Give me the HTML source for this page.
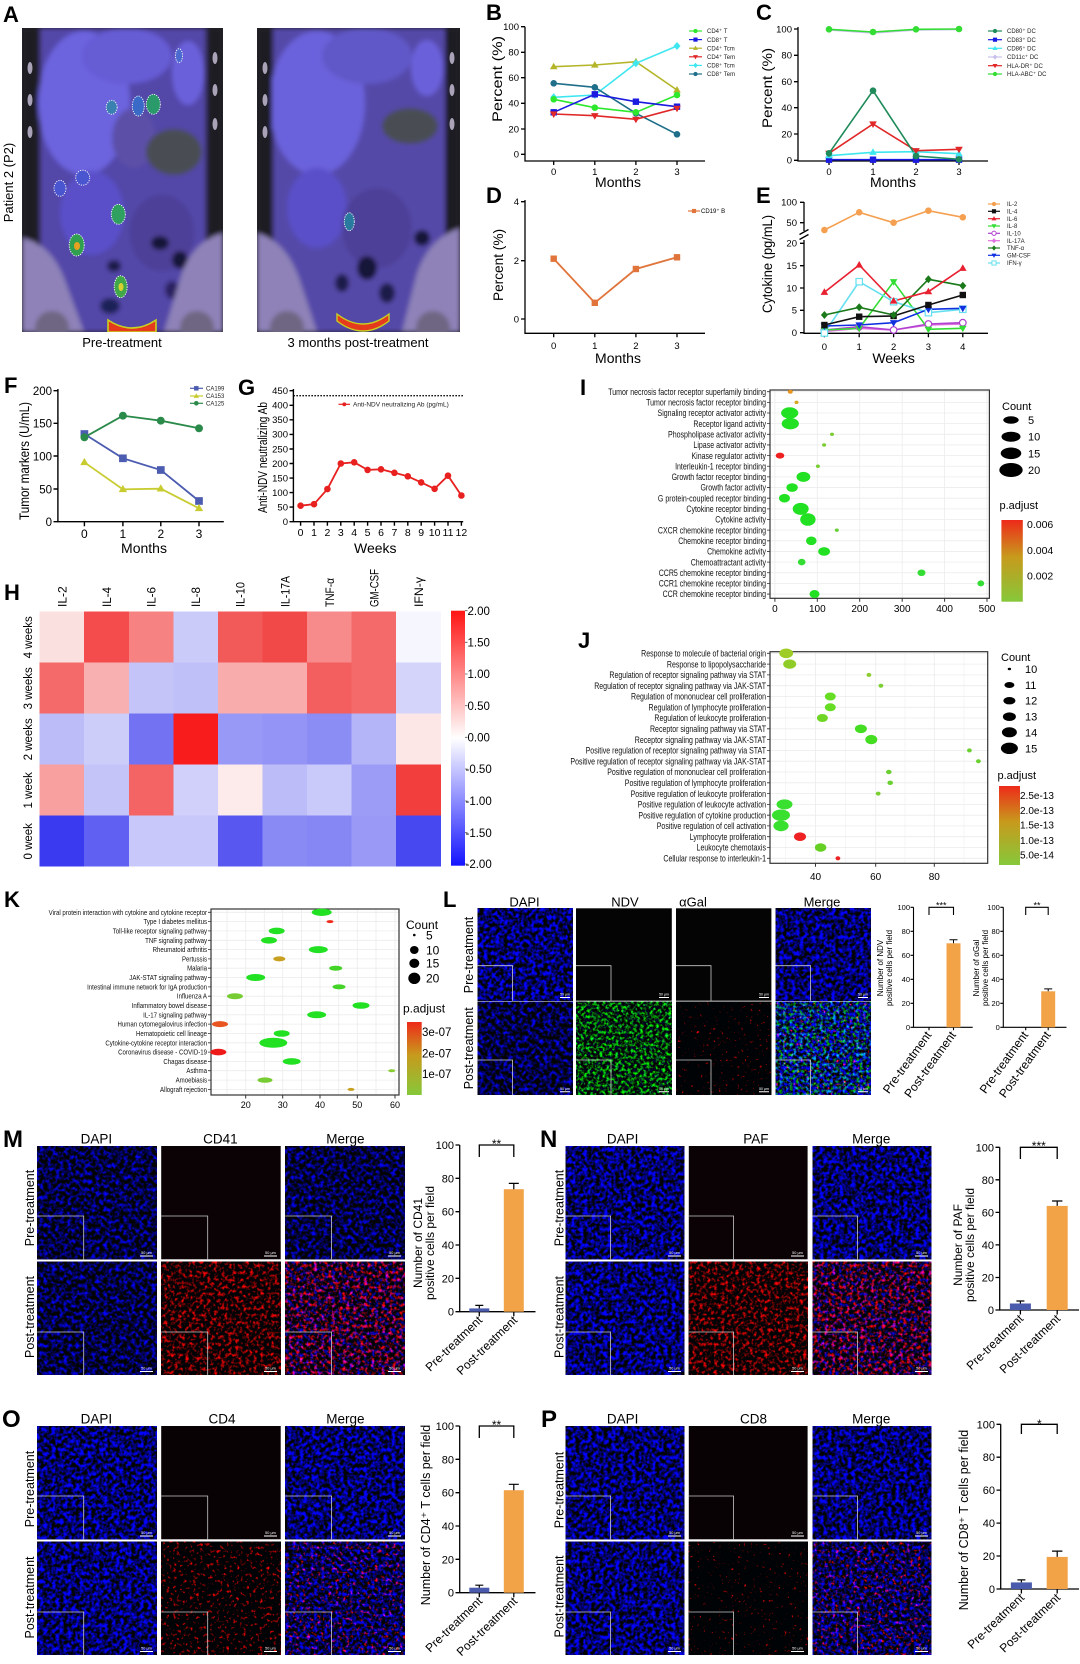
<!DOCTYPE html>
<html><head><meta charset="utf-8"><style>
html,body{margin:0;padding:0;background:#fff;}
svg{display:block;}
</style></head><body>
<svg width="1080" height="1664" viewBox="0 0 1080 1664" xmlns="http://www.w3.org/2000/svg" font-family="Liberation Sans, Arial, DejaVu Sans, sans-serif">
<defs>
<circle id="c" r="3.3"/>
<rect id="s" x="-3.2" y="-3.2" width="6.4" height="6.4"/>
<path id="t" d="M0-4 3.8 2.6-3.8 2.6Z"/>
<path id="v" d="M0 4 3.8-2.6-3.8-2.6Z"/>
<path id="d" d="M0-4 3.5 0 0 4-3.5 0Z"/>
<filter id="fBlur" x="-5%" y="-5%" width="110%" height="110%"><feGaussianBlur stdDeviation="2.5"/></filter>
<filter id="fDapi" x="0" y="0" width="1" height="1" color-interpolation-filters="sRGB"><feTurbulence type="fractalNoise" baseFrequency="0.25" numOctaves="3" seed="4"/><feColorMatrix type="matrix" values="0 0 0 0 0.01  0 0 0 0 0.01  3.0 0 0 0 -1.1  0 0 0 0 1"/></filter>
<filter id="fDapiDim" x="0" y="0" width="1" height="1" color-interpolation-filters="sRGB"><feTurbulence type="fractalNoise" baseFrequency="0.25" numOctaves="3" seed="7"/><feColorMatrix type="matrix" values="0 0 0 0 0.01  0 0 0 0 0.01  2.6 0 0 0 -1.05  0 0 0 0 1"/></filter>
<filter id="fRed" x="0" y="0" width="1" height="1" color-interpolation-filters="sRGB"><feTurbulence type="fractalNoise" baseFrequency="0.28" numOctaves="2" seed="11"/><feColorMatrix type="matrix" values="0 3.0 0 0 -1.4  0 0 0 0 0.01  0 0 0 0 0.02  0 0 0 0 1"/></filter>
<filter id="fRedMed" x="0" y="0" width="1" height="1" color-interpolation-filters="sRGB"><feTurbulence type="fractalNoise" baseFrequency="0.3" numOctaves="2" seed="13"/><feColorMatrix type="matrix" values="0 4.0 0 0 -2.3  0 0 0 0 0.01  0 0 0 0 0.02  0 0 0 0 1"/></filter>
<filter id="fRedSparse" x="0" y="0" width="1" height="1" color-interpolation-filters="sRGB"><feTurbulence type="fractalNoise" baseFrequency="0.32" numOctaves="2" seed="17"/><feColorMatrix type="matrix" values="0 5.0 0 0 -3.4  0 0 0 0 0.01  0 0 0 0 0.02  0 0 0 0 1"/></filter>
<filter id="fGreen" x="0" y="0" width="1" height="1" color-interpolation-filters="sRGB"><feTurbulence type="fractalNoise" baseFrequency="0.32" numOctaves="2" seed="21"/><feColorMatrix type="matrix" values="0 0 0 0 0.02  3.0 0 0 0 -1.3  0 0 0.6 0 -0.25  0 0 0 0 1"/></filter>
<filter id="fMergeL" x="0" y="0" width="1" height="1" color-interpolation-filters="sRGB"><feTurbulence type="fractalNoise" baseFrequency="0.3" numOctaves="2" seed="23"/><feColorMatrix type="matrix" values="0 5.0 0 0 -3.3  2.2 0 0 0 -1.0  0 0 3.0 0 -1.1  0 0 0 0 1"/></filter>
<filter id="fMergeRB" x="0" y="0" width="1" height="1" color-interpolation-filters="sRGB"><feTurbulence type="fractalNoise" baseFrequency="0.28" numOctaves="2" seed="29"/><feColorMatrix type="matrix" values="0 3.0 0 0 -1.4  0 0 0 0 0.01  2.4 0 0 0 -1.05  0 0 0 0 1"/></filter>
<filter id="fMergeBsR" x="0" y="0" width="1" height="1" color-interpolation-filters="sRGB"><feTurbulence type="fractalNoise" baseFrequency="0.28" numOctaves="2" seed="31"/><feColorMatrix type="matrix" values="0 4.0 0 0 -2.35  0 0 0 0 0.01  2.8 0 0 0 -1.1  0 0 0 0 1"/></filter>
<linearGradient id="gHeat" x1="0" y1="0" x2="0" y2="1"><stop offset="0" stop-color="#ff1414"/><stop offset="0.5" stop-color="#ffffff"/><stop offset="1" stop-color="#1414ff"/></linearGradient>
<linearGradient id="gPadj" x1="0" y1="0" x2="0" y2="1"><stop offset="0" stop-color="#ee2a1a"/><stop offset="0.45" stop-color="#c89a1c"/><stop offset="1" stop-color="#86c83a"/></linearGradient>
<clipPath id="ctL"><rect width="201" height="304"/></clipPath>
<clipPath id="ctR"><rect width="203" height="304"/></clipPath>
</defs>
<rect width="1080" height="1664" fill="#fff"/>

<!-- Panel labels -->
<g font-weight="bold" font-size="22" fill="#000">
<text x="3" y="22">A</text><text x="486" y="20">B</text><text x="756" y="20">C</text>
<text x="486" y="203">D</text><text x="756" y="203">E</text>
<text x="4" y="393">F</text><text x="238" y="395">G</text><text x="4" y="600">H</text>
<text x="580" y="395">I</text><text x="578" y="648">J</text>
<text x="4" y="907">K</text><text x="443" y="907">L</text>
</g>
<g font-weight="bold" font-size="24" fill="#000">
<text x="3" y="1147">M</text><text x="540" y="1147">N</text><text x="2" y="1427">O</text><text x="541" y="1427">P</text>
</g>

<!-- ===== Panel A ===== -->
<g transform="translate(22,28)"><g clip-path="url(#ctL)">
<rect width="201" height="304" fill="#24212b"/>
<g filter="url(#fBlur)">
<rect x="18" y="0" width="166" height="304" fill="#5246a8"/>
<ellipse cx="62" cy="75" rx="46" ry="72" fill="#6c63de"/>
<ellipse cx="105" cy="28" rx="45" ry="28" fill="#665cd4"/>
<ellipse cx="166" cy="45" rx="16" ry="32" fill="#6a60da"/>
<ellipse cx="112" cy="110" rx="22" ry="30" fill="#5c4fa8"/>
<ellipse cx="152" cy="124" rx="28" ry="23" fill="#4a4e52"/>
<ellipse cx="70" cy="185" rx="32" ry="42" fill="#5a50c8"/>
<ellipse cx="140" cy="205" rx="32" ry="38" fill="#4d4098"/>
<ellipse cx="138" cy="215" rx="9" ry="7" fill="#161338"/>
<ellipse cx="158" cy="232" rx="8" ry="9" fill="#161338"/>
<ellipse cx="92" cy="238" rx="7" ry="6" fill="#1e1c4a"/>
<ellipse cx="88" cy="278" rx="10" ry="8" fill="#1e2458"/>
<ellipse cx="150" cy="262" rx="7" ry="9" fill="#2a2060"/>
<rect x="0" y="0" width="16" height="215" fill="#1e1c24"/>
<rect x="186" y="0" width="15" height="210" fill="#1e1c24"/>
<path d="M0,210 Q28,215 42,250 L62,304 H0Z" fill="#8e82b8"/>
<path d="M201,205 Q172,212 160,245 L142,304 H201Z" fill="#8e82b8"/>
<circle cx="30" cy="300" r="17" fill="#6e6682"/>
<circle cx="175" cy="300" r="17" fill="#6e6682"/>
</g>
<g fill="#aaa3b8"><ellipse cx="8" cy="40" rx="2.5" ry="6"/><ellipse cx="8" cy="72" rx="2.5" ry="6"/><ellipse cx="8" cy="104" rx="2.5" ry="6"/><ellipse cx="193" cy="30" rx="2.5" ry="6"/><ellipse cx="193" cy="62" rx="2.5" ry="6"/><ellipse cx="193" cy="96" rx="2.5" ry="6"/></g>
<path d="M86,292 Q110,308 134,292 L134,304 H86Z" fill="#e63a1c" stroke="#c8d020" stroke-width="1.6"/>
<g stroke="#fff" stroke-width="0.9" stroke-dasharray="1.2 1.2">
<ellipse cx="157" cy="27.7" rx="3.5" ry="7" fill="#4a6ad0"/>
<ellipse cx="89.7" cy="79.3" rx="5.5" ry="7" fill="#3a80b0"/>
<ellipse cx="116.3" cy="78" rx="6" ry="10" fill="#3a6ac8"/>
<ellipse cx="131.3" cy="76.3" rx="7" ry="10" fill="#2a9a6a"/>
<ellipse cx="60.7" cy="149.7" rx="7" ry="7.5" fill="#4a55d0"/>
<ellipse cx="38" cy="160.3" rx="6" ry="8" fill="#4a55d0"/>
<ellipse cx="96.3" cy="186.3" rx="7" ry="10" fill="#30a060"/>
<ellipse cx="54.7" cy="217" rx="7.5" ry="11" fill="#30a050"/>
<ellipse cx="98.7" cy="258.7" rx="6.5" ry="11" fill="#40a848"/>
</g>
<ellipse cx="55" cy="218" rx="3" ry="4" fill="#e8a020"/>
<ellipse cx="99" cy="259" rx="2.5" ry="4" fill="#d8d030"/>
</g></g>

<g transform="translate(257,28)"><g clip-path="url(#ctR)">
<rect width="203" height="304" fill="#24212b"/>
<g filter="url(#fBlur)">
<rect x="16" y="0" width="172" height="304" fill="#5448a8"/>
<ellipse cx="60" cy="75" rx="48" ry="72" fill="#6a62dc"/>
<ellipse cx="110" cy="28" rx="45" ry="28" fill="#6058c8"/>
<ellipse cx="170" cy="40" rx="16" ry="28" fill="#6a60da"/>
<ellipse cx="153" cy="98" rx="28" ry="18" fill="#4a4e52"/>
<ellipse cx="60" cy="180" rx="30" ry="40" fill="#5a50c8"/>
<ellipse cx="120" cy="200" rx="35" ry="40" fill="#4d4098"/>
<ellipse cx="110" cy="240" rx="10" ry="12" fill="#181438"/>
<ellipse cx="130" cy="265" rx="8" ry="10" fill="#1e1c4a"/>
<ellipse cx="85" cy="255" rx="7" ry="9" fill="#1e1c4a"/>
<ellipse cx="165" cy="210" rx="8" ry="8" fill="#161338"/>
<rect x="0" y="0" width="15" height="215" fill="#1e1c24"/>
<rect x="188" y="0" width="15" height="210" fill="#1e1c24"/>
<path d="M0,205 Q28,212 42,250 L60,304 H0Z" fill="#8e82b8"/>
<path d="M203,200 Q172,210 160,245 L145,304 H203Z" fill="#8e82b8"/>
<circle cx="30" cy="300" r="17" fill="#6e6682"/>
<circle cx="176" cy="300" r="17" fill="#6e6682"/>
</g>
<g fill="#aaa3b8"><ellipse cx="8" cy="40" rx="2.5" ry="6"/><ellipse cx="8" cy="72" rx="2.5" ry="6"/><ellipse cx="8" cy="104" rx="2.5" ry="6"/><ellipse cx="195" cy="30" rx="2.5" ry="6"/><ellipse cx="195" cy="62" rx="2.5" ry="6"/><ellipse cx="195" cy="96" rx="2.5" ry="6"/></g>
<path d="M80,286 Q106,306 132,286 L132,293 Q106,313 80,293Z" fill="#e63a1c" stroke="#c8d020" stroke-width="1.4"/>
<ellipse cx="92.3" cy="193.7" rx="5" ry="9" fill="#2a7aa0" stroke="#fff" stroke-width="0.9" stroke-dasharray="1.2 1.2"/>
</g></g>
<g font-size="13" fill="#000" text-anchor="middle">
<text x="122" y="347">Pre-treatment</text>
<text x="358" y="347">3 months post-treatment</text>
<text transform="translate(13,182.5) rotate(-90)">Patient 2 (P2)</text>
</g>

<!-- ===== Panel B ===== -->
<g stroke="#000" stroke-width="1.3" fill="none">
<path d="M525,26.7V161H705"/>
<path d="M521,26.7H525M521,52.3H525M521,77.7H525M521,103.3H525M521,129H525M521,154.3H525"/>
<path d="M553.7,161v4M594.8,161v4M635.9,161v4M677,161v4"/>
</g>
<g font-size="9.5" text-anchor="end"><text x="519" y="30">100</text><text x="519" y="55.6">80</text><text x="519" y="81">60</text><text x="519" y="106.6">40</text><text x="519" y="132.3">20</text><text x="519" y="157.6">0</text></g>
<g font-size="9.5" text-anchor="middle"><text x="553.7" y="175">0</text><text x="594.8" y="175">1</text><text x="635.9" y="175">2</text><text x="677" y="175">3</text></g>
<text x="618" y="187" font-size="14" text-anchor="middle">Months</text>
<text transform="translate(502,79) rotate(-90)" font-size="14" text-anchor="middle" textLength="86" lengthAdjust="spacingAndGlyphs">Percent (%)</text>
<g fill="none" stroke-width="1.6">
<polyline stroke="#b5b52a" points="553.7,66.7 594.8,65 635.9,61.7 677,90"/>
<polyline stroke="#3ee6f0" points="553.7,97.3 594.8,95 635.9,63.3 677,46"/>
<polyline stroke="#1f6f8a" points="553.7,83.3 594.8,87.3 635.9,113.3 677,134.3"/>
<polyline stroke="#2ee82e" points="553.7,99.3 594.8,107.7 635.9,112.3 677,95"/>
<polyline stroke="#1a1ae0" points="553.7,112.3 594.8,94.3 635.9,101.7 677,106.7"/>
<polyline stroke="#e02828" points="553.7,114 594.8,115.7 635.9,119.3 677,108.3"/>
</g>
<g fill="#b5b52a"><use href="#t" x="553.7" y="66.7"/><use href="#t" x="594.8" y="65"/><use href="#t" x="635.9" y="61.7"/><use href="#t" x="677" y="90"/></g>
<g fill="#3ee6f0"><use href="#d" x="553.7" y="97.3"/><use href="#d" x="594.8" y="95"/><use href="#d" x="635.9" y="63.3"/><use href="#d" x="677" y="46"/></g>
<g fill="#1f6f8a"><use href="#c" x="553.7" y="83.3"/><use href="#c" x="594.8" y="87.3"/><use href="#c" x="635.9" y="113.3"/><use href="#c" x="677" y="134.3"/></g>
<g fill="#2ee82e"><use href="#c" x="553.7" y="99.3"/><use href="#c" x="594.8" y="107.7"/><use href="#c" x="635.9" y="112.3"/><use href="#c" x="677" y="95"/></g>
<g fill="#1a1ae0"><use href="#s" x="553.7" y="112.3"/><use href="#s" x="594.8" y="94.3"/><use href="#s" x="635.9" y="101.7"/><use href="#s" x="677" y="106.7"/></g>
<g fill="#e02828"><use href="#v" x="553.7" y="114"/><use href="#v" x="594.8" y="115.7"/><use href="#v" x="635.9" y="119.3"/><use href="#v" x="677" y="108.3"/></g>
<g font-size="6" fill="#222">
<line x1="689" x2="702" y1="31" y2="31" stroke="#2ee82e" stroke-width="1.2"/><use href="#c" transform="translate(695.5,31) scale(.65)" fill="#2ee82e"/><text x="707" y="33.2">CD4⁺ T</text>
<line x1="689" x2="702" y1="39.6" y2="39.6" stroke="#1a1ae0" stroke-width="1.2"/><use href="#s" transform="translate(695.5,39.6) scale(.65)" fill="#1a1ae0"/><text x="707" y="41.8">CD8⁺ T</text>
<line x1="689" x2="702" y1="48.2" y2="48.2" stroke="#b5b52a" stroke-width="1.2"/><use href="#t" transform="translate(695.5,48.2) scale(.65)" fill="#b5b52a"/><text x="707" y="50.4">CD4⁺ Tcm</text>
<line x1="689" x2="702" y1="56.8" y2="56.8" stroke="#e02828" stroke-width="1.2"/><use href="#v" transform="translate(695.5,56.8) scale(.65)" fill="#e02828"/><text x="707" y="59">CD4⁺ Tem</text>
<line x1="689" x2="702" y1="65.4" y2="65.4" stroke="#3ee6f0" stroke-width="1.2"/><use href="#d" transform="translate(695.5,65.4) scale(.65)" fill="#3ee6f0"/><text x="707" y="67.6">CD8⁺ Tcm</text>
<line x1="689" x2="702" y1="74" y2="74" stroke="#1f6f8a" stroke-width="1.2"/><use href="#c" transform="translate(695.5,74) scale(.65)" fill="#1f6f8a"/><text x="707" y="76.2">CD8⁺ Tem</text>
</g>

<!-- ===== Panel C ===== -->
<g stroke="#000" stroke-width="1.3" fill="none">
<path d="M798,27V161H988"/>
<path d="M794,29H798M794,55.3H798M794,81.7H798M794,107.7H798M794,134H798M794,160.3H798"/>
<path d="M829,161v4M873,161v4M916,161v4M959,161v4"/>
</g>
<g font-size="9.5" text-anchor="end"><text x="792" y="32.3">100</text><text x="792" y="58.6">80</text><text x="792" y="85">60</text><text x="792" y="111">40</text><text x="792" y="137.3">20</text><text x="792" y="163.6">0</text></g>
<g font-size="9.5" text-anchor="middle"><text x="829" y="175">0</text><text x="873" y="175">1</text><text x="916" y="175">2</text><text x="959" y="175">3</text></g>
<text x="893" y="187" font-size="14" text-anchor="middle">Months</text>
<text transform="translate(772,88) rotate(-90)" font-size="14" text-anchor="middle" textLength="80" lengthAdjust="spacingAndGlyphs">Percent (%)</text>
<g fill="none" stroke-width="1.6">
<polyline stroke="#1a1ae0" points="829,159.7 873,159.7 916,159.7 959,159.7"/>
<polyline stroke="#3ee6f0" points="829,155.7 873,152.3 916,151.7 959,153.7"/>
<polyline stroke="#e02828" points="829,153.3 873,124 916,150.7 959,149.3"/>
<polyline stroke="#1f8a5a" points="829,153.3 873,90.7 916,156 959,159.3"/>
<polyline stroke="#c8c0ec" points="829,30 873,33 916,30 959,29.5"/>
<polyline stroke="#33dd33" points="829,29.3 873,32 916,29.3 959,29"/>
</g>
<g fill="#1a1ae0"><use href="#s" x="829" y="159.7"/><use href="#s" x="873" y="159.7"/><use href="#s" x="916" y="159.7"/><use href="#s" x="959" y="159.7"/></g>
<g fill="#3ee6f0"><use href="#t" x="829" y="155.7"/><use href="#t" x="873" y="152.3"/><use href="#t" x="916" y="151.7"/><use href="#t" x="959" y="153.7"/></g>
<g fill="#e02828"><use href="#v" x="829" y="153.3"/><use href="#v" x="873" y="124"/><use href="#v" x="916" y="150.7"/><use href="#v" x="959" y="149.3"/></g>
<g fill="#1f8a5a"><use href="#c" x="829" y="153.3"/><use href="#c" x="873" y="90.7"/><use href="#c" x="916" y="156"/><use href="#c" x="959" y="159.3"/></g>
<g fill="#33dd33"><use href="#c" x="829" y="29.3"/><use href="#c" x="873" y="32"/><use href="#c" x="916" y="29.3"/><use href="#c" x="959" y="29"/></g>
<g font-size="6" fill="#222">
<line x1="988" x2="1002" y1="31" y2="31" stroke="#1f8a5a" stroke-width="1.2"/><use href="#c" transform="translate(995,31) scale(.65)" fill="#1f8a5a"/><text x="1007" y="33.2">CD80⁺ DC</text>
<line x1="988" x2="1002" y1="39.7" y2="39.7" stroke="#1a1ae0" stroke-width="1.2"/><use href="#s" transform="translate(995,39.7) scale(.65)" fill="#1a1ae0"/><text x="1007" y="41.9">CD83⁺ DC</text>
<line x1="988" x2="1002" y1="48.3" y2="48.3" stroke="#3ee6f0" stroke-width="1.2"/><use href="#t" transform="translate(995,48.3) scale(.65)" fill="#3ee6f0"/><text x="1007" y="50.5">CD86⁺ DC</text>
<line x1="988" x2="1002" y1="57" y2="57" stroke="#c8c0ec" stroke-width="1.2"/><use href="#d" transform="translate(995,57) scale(.65)" fill="#c8c0ec"/><text x="1007" y="59.2">CD11c⁺ DC</text>
<line x1="988" x2="1002" y1="65.7" y2="65.7" stroke="#e02828" stroke-width="1.2"/><use href="#v" transform="translate(995,65.7) scale(.65)" fill="#e02828"/><text x="1007" y="67.9">HLA-DR⁺ DC</text>
<line x1="988" x2="1002" y1="74" y2="74" stroke="#33dd33" stroke-width="1.2"/><use href="#c" transform="translate(995,74) scale(.65)" fill="#33dd33"/><text x="1007" y="76.2">HLA-ABC⁺ DC</text>
</g>

<!-- ===== Panel D ===== -->
<g stroke="#000" stroke-width="1.3" fill="none">
<path d="M525,200V333.3H705"/>
<path d="M521,201.7H525M521,260.7H525M521,319H525"/>
<path d="M553.7,333.3v4M594.8,333.3v4M635.9,333.3v4M677,333.3v4"/>
</g>
<g font-size="9.5" text-anchor="end"><text x="519" y="205">4</text><text x="519" y="264">2</text><text x="519" y="322.3">0</text></g>
<g font-size="9.5" text-anchor="middle"><text x="553.7" y="349">0</text><text x="594.8" y="349">1</text><text x="635.9" y="349">2</text><text x="677" y="349">3</text></g>
<text x="618" y="363" font-size="14" text-anchor="middle">Months</text>
<text transform="translate(503,265) rotate(-90)" font-size="14" text-anchor="middle" textLength="72" lengthAdjust="spacingAndGlyphs">Percent (%)</text>
<polyline fill="none" stroke="#e0743a" stroke-width="1.8" points="553.7,258.7 594.8,302.8 635.9,269 677,257.3"/>
<g fill="#e0743a"><use href="#s" x="553.7" y="258.7"/><use href="#s" x="594.8" y="302.8"/><use href="#s" x="635.9" y="269"/><use href="#s" x="677" y="257.3"/></g>
<line x1="688" x2="700" y1="211" y2="211" stroke="#e0743a" stroke-width="1.2"/><use href="#s" transform="translate(694,211) scale(.65)" fill="#e0743a"/><text x="701" y="213.2" font-size="6">CD19⁺ B</text>

<!-- ===== Panel E ===== -->
<g stroke="#000" stroke-width="1.3" fill="none">
<path d="M804,202V231"/>
<path d="M804,240V333.3H988"/>
<path d="M799.5,234.5L808.5,229.5M799.5,239.5L808.5,234.5"/>
<path d="M800,202.3H804M800,222.7H804M800,243.3H804M800,265.7H804M800,288H804M800,310.3H804M800,332.7H804"/>
<path d="M824.4,333.3v4M859.2,333.3v4M893.6,333.3v4M928.4,333.3v4M962.8,333.3v4"/>
</g>
<g font-size="9.5" text-anchor="end"><text x="797" y="205.6">100</text><text x="797" y="226">50</text><text x="797" y="246.6">20</text><text x="797" y="269">15</text><text x="797" y="291.3">10</text><text x="797" y="313.6">5</text><text x="797" y="336">0</text></g>
<g font-size="9.5" text-anchor="middle"><text x="824.4" y="350">0</text><text x="859.2" y="350">1</text><text x="893.6" y="350">2</text><text x="928.4" y="350">3</text><text x="962.8" y="350">4</text></g>
<text x="893.6" y="363" font-size="14" text-anchor="middle">Weeks</text>
<text transform="translate(772,264) rotate(-90)" font-size="14" text-anchor="middle" textLength="98" lengthAdjust="spacingAndGlyphs">Cytokine (pg/mL)</text>
<g fill="none" stroke-width="1.6">
<polyline stroke="#f5a050" points="824.4,230 859.2,212.3 893.6,222.7 928.4,210.7 962.8,217.3"/>
<polyline stroke="#e070e0" points="824.4,331.5 859.2,328.3 893.6,330 928.4,325 962.8,324"/>
<polyline stroke="#b040d0" points="824.4,330 859.2,326.7 893.6,330 928.4,324 962.8,322.7"/>
<polyline stroke="#33dd33" points="824.4,330 859.2,328.3 893.6,281.7 928.4,329.3 962.8,328.3"/>
<polyline stroke="#66e0f0" points="824.4,333 859.2,281.7 893.6,301.7 928.4,312.7 962.8,309.3"/>
<polyline stroke="#1030e0" points="824.4,326 859.2,325 893.6,322.7 928.4,309.3 962.8,308.3"/>
<polyline stroke="#111" points="824.4,325 859.2,316.7 893.6,316 928.4,305 962.8,295"/>
<polyline stroke="#1a7a1a" points="824.4,315 859.2,307.3 893.6,315 928.4,279.3 962.8,285.7"/>
<polyline stroke="#e82030" points="824.4,292.3 859.2,265 893.6,301 928.4,291.7 962.8,268.3"/>
</g>
<g fill="#f5a050"><use href="#c" x="824.4" y="230"/><use href="#c" x="859.2" y="212.3"/><use href="#c" x="893.6" y="222.7"/><use href="#c" x="928.4" y="210.7"/><use href="#c" x="962.8" y="217.3"/></g>
<g fill="#e070e0"><use href="#d" x="824.4" y="331.5"/><use href="#d" x="859.2" y="328.3"/><use href="#d" x="893.6" y="330"/><use href="#d" x="928.4" y="325"/><use href="#d" x="962.8" y="324"/></g>
<g fill="#fff" stroke="#b040d0" stroke-width="1.2"><use href="#c" x="824.4" y="330"/><use href="#c" x="859.2" y="326.7"/><use href="#c" x="893.6" y="330"/><use href="#c" x="928.4" y="324"/><use href="#c" x="962.8" y="322.7"/></g>
<g fill="#33dd33"><use href="#v" x="824.4" y="330"/><use href="#v" x="859.2" y="328.3"/><use href="#v" x="893.6" y="281.7"/><use href="#v" x="928.4" y="329.3"/><use href="#v" x="962.8" y="328.3"/></g>
<g fill="#fff" stroke="#66e0f0" stroke-width="1.2"><use href="#s" x="824.4" y="333"/><use href="#s" x="859.2" y="281.7"/><use href="#s" x="893.6" y="301.7"/><use href="#s" x="928.4" y="312.7"/><use href="#s" x="962.8" y="309.3"/></g>
<g fill="#1030e0"><use href="#v" x="824.4" y="326"/><use href="#v" x="859.2" y="325"/><use href="#v" x="893.6" y="322.7"/><use href="#v" x="928.4" y="309.3"/><use href="#v" x="962.8" y="308.3"/></g>
<g fill="#111"><use href="#s" x="824.4" y="325"/><use href="#s" x="859.2" y="316.7"/><use href="#s" x="893.6" y="316"/><use href="#s" x="928.4" y="305"/><use href="#s" x="962.8" y="295"/></g>
<g fill="#1a7a1a"><use href="#d" x="824.4" y="315"/><use href="#d" x="859.2" y="307.3"/><use href="#d" x="893.6" y="315"/><use href="#d" x="928.4" y="279.3"/><use href="#d" x="962.8" y="285.7"/></g>
<g fill="#e82030"><use href="#t" x="824.4" y="292.3"/><use href="#t" x="859.2" y="265"/><use href="#t" x="893.6" y="301"/><use href="#t" x="928.4" y="291.7"/><use href="#t" x="962.8" y="268.3"/></g>
<g font-size="6" fill="#222">
<line x1="988" x2="1000" y1="204" y2="204" stroke="#f5a050" stroke-width="1.2"/><use href="#c" transform="translate(994,204) scale(.65)" fill="#f5a050"/><text x="1007" y="206.2">IL-2</text>
<line x1="988" x2="1000" y1="211.3" y2="211.3" stroke="#111" stroke-width="1.2"/><use href="#s" transform="translate(994,211.3) scale(.65)" fill="#111"/><text x="1007" y="213.5">IL-4</text>
<line x1="988" x2="1000" y1="218.7" y2="218.7" stroke="#e82030" stroke-width="1.2"/><use href="#t" transform="translate(994,218.7) scale(.65)" fill="#e82030"/><text x="1007" y="220.9">IL-6</text>
<line x1="988" x2="1000" y1="226" y2="226" stroke="#33dd33" stroke-width="1.2"/><use href="#v" transform="translate(994,226) scale(.65)" fill="#33dd33"/><text x="1007" y="228.2">IL-8</text>
<line x1="988" x2="1000" y1="233.3" y2="233.3" stroke="#b040d0" stroke-width="1.2"/><use href="#c" transform="translate(994,233.3) scale(.65)" fill="#fff" stroke="#b040d0" stroke-width="1.5"/><text x="1007" y="235.5">IL-10</text>
<line x1="988" x2="1000" y1="240.7" y2="240.7" stroke="#e070e0" stroke-width="1.2"/><use href="#d" transform="translate(994,240.7) scale(.65)" fill="#e070e0"/><text x="1007" y="242.9">IL-17A</text>
<line x1="988" x2="1000" y1="248" y2="248" stroke="#1a7a1a" stroke-width="1.2"/><use href="#d" transform="translate(994,248) scale(.65)" fill="#1a7a1a"/><text x="1007" y="250.2">TNF-α</text>
<line x1="988" x2="1000" y1="255.3" y2="255.3" stroke="#1030e0" stroke-width="1.2"/><use href="#v" transform="translate(994,255.3) scale(.65)" fill="#1030e0"/><text x="1007" y="257.5">GM-CSF</text>
<line x1="988" x2="1000" y1="263" y2="263" stroke="#66e0f0" stroke-width="1.2"/><use href="#s" transform="translate(994,263) scale(.65)" fill="#fff" stroke="#66e0f0" stroke-width="1.5"/><text x="1007" y="265.2">IFN-γ</text>
</g>

<!-- ===== Panel F ===== -->
<g stroke="#000" stroke-width="1.4" fill="none">
<path d="M57.9,389V521.7H223.8"/>
<path d="M53.5,390.7H57.9M53.5,423.3H57.9M53.5,456H57.9M53.5,489H57.9M53.5,521.7H57.9"/>
<path d="M84.4,521.7v4.5M122.9,521.7v4.5M160.8,521.7v4.5M199,521.7v4.5"/>
</g>
<g font-size="11.5" text-anchor="end"><text x="52" y="395">200</text><text x="52" y="427.6">150</text><text x="52" y="460.3">100</text><text x="52" y="493.3">50</text><text x="52" y="526">0</text></g>
<g font-size="12" text-anchor="middle"><text x="84.4" y="538">0</text><text x="122.9" y="538">1</text><text x="160.8" y="538">2</text><text x="199" y="538">3</text></g>
<text x="144" y="553" font-size="14" text-anchor="middle">Months</text>
<text transform="translate(29,461) rotate(-90)" font-size="14" text-anchor="middle" textLength="118" lengthAdjust="spacingAndGlyphs">Tumor markers (U/mL)</text>
<g fill="none" stroke-width="1.8">
<polyline stroke="#4c5cb0" points="84.4,434 122.9,458.3 160.8,470 199,501"/>
<polyline stroke="#c8cc30" points="84.4,462.3 122.9,489.3 160.8,488.7 199,508.3"/>
<polyline stroke="#2a8a4a" points="84.4,437.3 122.9,415.7 160.8,420.7 199,428.3"/>
</g>
<g fill="#4c5cb0"><use href="#s" transform="translate(84.4,434) scale(1.2)"/><use href="#s" transform="translate(122.9,458.3) scale(1.2)"/><use href="#s" transform="translate(160.8,470) scale(1.2)"/><use href="#s" transform="translate(199,501) scale(1.2)"/></g>
<g fill="#c8cc30"><use href="#t" transform="translate(84.4,462.3) scale(1.1)"/><use href="#t" transform="translate(122.9,489.3) scale(1.1)"/><use href="#t" transform="translate(160.8,488.7) scale(1.1)"/><use href="#t" transform="translate(199,508.3) scale(1.1)"/></g>
<g fill="#2a8a4a"><use href="#c" transform="translate(84.4,437.3) scale(1.2)"/><use href="#c" transform="translate(122.9,415.7) scale(1.2)"/><use href="#c" transform="translate(160.8,420.7) scale(1.2)"/><use href="#c" transform="translate(199,428.3) scale(1.2)"/></g>
<g font-size="6" fill="#222">
<line x1="190" x2="203" y1="388.3" y2="388.3" stroke="#4c5cb0" stroke-width="1.2"/><use href="#s" transform="translate(196.3,388.3) scale(.7)" fill="#4c5cb0"/><text x="206" y="390.5">CA199</text>
<line x1="190" x2="203" y1="396" y2="396" stroke="#c8cc30" stroke-width="1.2"/><use href="#t" transform="translate(196.3,396) scale(.7)" fill="#c8cc30"/><text x="206" y="398.2">CA153</text>
<line x1="190" x2="203" y1="403.3" y2="403.3" stroke="#2a8a4a" stroke-width="1.2"/><use href="#c" transform="translate(196.3,403.3) scale(.7)" fill="#2a8a4a"/><text x="206" y="405.5">CA125</text>
</g>

<!-- ===== Panel G ===== -->
<g stroke="#000" stroke-width="1.4" fill="none">
<path d="M293.4,389V521.7H463.2"/>
<path d="M289.5,390.7H293.4M289.5,405.3H293.4M289.5,419.8H293.4M289.5,434.4H293.4M289.5,449H293.4M289.5,463.5H293.4M289.5,478.1H293.4M289.5,492.6H293.4M289.5,507.1H293.4M289.5,521.7H293.4"/>
<path d="M300.6,521.7v4M314,521.7v4M327.4,521.7v4M340.8,521.7v4M354.2,521.7v4M367.6,521.7v4M381,521.7v4M394.4,521.7v4M407.8,521.7v4M421.2,521.7v4M434.6,521.7v4M448,521.7v4M461.4,521.7v4"/>
</g>
<line x1="293.4" x2="463" y1="395.7" y2="395.7" stroke="#000" stroke-width="1.4" stroke-dasharray="1.5 1.5"/>
<g font-size="9.5" text-anchor="end"><text x="288" y="394">450</text><text x="288" y="408.6">400</text><text x="288" y="423.1">350</text><text x="288" y="437.7">300</text><text x="288" y="452.3">250</text><text x="288" y="466.8">200</text><text x="288" y="481.4">150</text><text x="288" y="495.9">100</text><text x="288" y="510.4">50</text><text x="288" y="525">0</text></g>
<g font-size="10.5" text-anchor="middle"><text x="300.6" y="536">0</text><text x="314" y="536">1</text><text x="327.4" y="536">2</text><text x="340.8" y="536">3</text><text x="354.2" y="536">4</text><text x="367.6" y="536">5</text><text x="381" y="536">6</text><text x="394.4" y="536">7</text><text x="407.8" y="536">8</text><text x="421.2" y="536">9</text><text x="434.6" y="536">10</text><text x="448" y="536">11</text><text x="461.4" y="536">12</text></g>
<text x="375.3" y="553" font-size="14" text-anchor="middle">Weeks</text>
<text transform="translate(267,457.5) rotate(-90)" font-size="12.5" text-anchor="middle" textLength="111" lengthAdjust="spacingAndGlyphs">Anti-NDV neutralizing Ab</text>
<polyline fill="none" stroke="#e82020" stroke-width="1.8" points="300.6,505.7 314,504.2 327.4,489.1 340.8,463.5 354.2,462.3 367.6,469.9 381,469.3 394.4,472.8 407.8,476.3 421.2,482.4 434.6,488.8 448,475.7 461.4,495.5"/>
<g fill="#e82020"><use href="#c" x="300.6" y="505.7"/><use href="#c" x="314" y="504.2"/><use href="#c" x="327.4" y="489.1"/><use href="#c" x="340.8" y="463.5"/><use href="#c" x="354.2" y="462.3"/><use href="#c" x="367.6" y="469.9"/><use href="#c" x="381" y="469.3"/><use href="#c" x="394.4" y="472.8"/><use href="#c" x="407.8" y="476.3"/><use href="#c" x="421.2" y="482.4"/><use href="#c" x="434.6" y="488.8"/><use href="#c" x="448" y="475.7"/><use href="#c" x="461.4" y="495.5"/></g>
<line x1="338.5" x2="350" y1="404.3" y2="404.3" stroke="#e82020" stroke-width="1.2"/><use href="#c" transform="translate(344.3,404.3) scale(.6)" fill="#e82020"/><text x="353" y="406.5" font-size="6.5" fill="#222">Anti-NDV neutralizing Ab (pg/mL)</text>

<!-- ===== Panel H heatmap ===== -->
<g shape-rendering="crispEdges">
<rect x="39.6" y="611.7" width="45" height="51.5" fill="#fbe0e0"/><rect x="84.2" y="611.7" width="45" height="51.5" fill="#f44c4c"/><rect x="128.8" y="611.7" width="45" height="51.5" fill="#f68282"/><rect x="173.3" y="611.7" width="45" height="51.5" fill="#cbcbf9"/><rect x="217.9" y="611.7" width="45" height="51.5" fill="#f25a5a"/><rect x="262.5" y="611.7" width="45" height="51.5" fill="#f14848"/><rect x="307.1" y="611.7" width="45" height="51.5" fill="#f78a8a"/><rect x="351.7" y="611.7" width="45" height="51.5" fill="#f46a6a"/><rect x="396.2" y="611.7" width="44.6" height="51.5" fill="#f6f6fe"/>
<rect x="39.6" y="662.7" width="45" height="51.5" fill="#f46a6a"/><rect x="84.2" y="662.7" width="45" height="51.5" fill="#f8b0b0"/><rect x="128.8" y="662.7" width="45" height="51.5" fill="#c4c4f9"/><rect x="173.3" y="662.7" width="45" height="51.5" fill="#c0c0f8"/><rect x="217.9" y="662.7" width="45" height="51.5" fill="#f8acac"/><rect x="262.5" y="662.7" width="45" height="51.5" fill="#f8acac"/><rect x="307.1" y="662.7" width="45" height="51.5" fill="#f35e5e"/><rect x="351.7" y="662.7" width="45" height="51.5" fill="#f46a6a"/><rect x="396.2" y="662.7" width="44.6" height="51.5" fill="#d4d4fa"/>
<rect x="39.6" y="713.7" width="45" height="51.5" fill="#bcbcf8"/><rect x="84.2" y="713.7" width="45" height="51.5" fill="#cdcdfa"/><rect x="128.8" y="713.7" width="45" height="51.5" fill="#7272f3"/><rect x="173.3" y="713.7" width="45" height="51.5" fill="#f81c1c"/><rect x="217.9" y="713.7" width="45" height="51.5" fill="#9898f6"/><rect x="262.5" y="713.7" width="45" height="51.5" fill="#9494f6"/><rect x="307.1" y="713.7" width="45" height="51.5" fill="#8c8cf5"/><rect x="351.7" y="713.7" width="45" height="51.5" fill="#b4b4f8"/><rect x="396.2" y="713.7" width="44.6" height="51.5" fill="#fce6e6"/>
<rect x="39.6" y="764.7" width="45" height="51.5" fill="#f8a0a0"/><rect x="84.2" y="764.7" width="45" height="51.5" fill="#c4c4f9"/><rect x="128.8" y="764.7" width="45" height="51.5" fill="#f46464"/><rect x="173.3" y="764.7" width="45" height="51.5" fill="#d0d0fa"/><rect x="217.9" y="764.7" width="45" height="51.5" fill="#fdeaea"/><rect x="262.5" y="764.7" width="45" height="51.5" fill="#bcbcf8"/><rect x="307.1" y="764.7" width="45" height="51.5" fill="#cacafa"/><rect x="351.7" y="764.7" width="45" height="51.5" fill="#9c9cf6"/><rect x="396.2" y="764.7" width="44.6" height="51.5" fill="#f33e3e"/>
<rect x="39.6" y="815.7" width="45" height="51" fill="#3a3af0"/><rect x="84.2" y="815.7" width="45" height="51" fill="#6060f2"/><rect x="128.8" y="815.7" width="45" height="51" fill="#c8c8fa"/><rect x="173.3" y="815.7" width="45" height="51" fill="#c8c8fa"/><rect x="217.9" y="815.7" width="45" height="51" fill="#5858f1"/><rect x="262.5" y="815.7" width="45" height="51" fill="#8a8af5"/><rect x="307.1" y="815.7" width="45" height="51" fill="#8686f5"/><rect x="351.7" y="815.7" width="45" height="51" fill="#9a9af6"/><rect x="396.2" y="815.7" width="44.6" height="51" fill="#4848f0"/>
</g>
<g font-size="12">
<text transform="translate(66.4,607) rotate(-90)" textLength="20.7" lengthAdjust="spacingAndGlyphs">IL-2</text>
<text transform="translate(111,607) rotate(-90)" textLength="20" lengthAdjust="spacingAndGlyphs">IL-4</text>
<text transform="translate(155.6,607) rotate(-90)" textLength="20" lengthAdjust="spacingAndGlyphs">IL-6</text>
<text transform="translate(200.1,607) rotate(-90)" textLength="20" lengthAdjust="spacingAndGlyphs">IL-8</text>
<text transform="translate(244.7,607) rotate(-90)" textLength="25" lengthAdjust="spacingAndGlyphs">IL-10</text>
<text transform="translate(289.3,607) rotate(-90)" textLength="31" lengthAdjust="spacingAndGlyphs">IL-17A</text>
<text transform="translate(333.9,607) rotate(-90)" textLength="29" lengthAdjust="spacingAndGlyphs">TNF-α</text>
<text transform="translate(378.5,607) rotate(-90)" textLength="38" lengthAdjust="spacingAndGlyphs">GM-CSF</text>
<text transform="translate(423,607) rotate(-90)" textLength="30" lengthAdjust="spacingAndGlyphs">IFN-γ</text>
</g>
<g font-size="11.5" text-anchor="middle">
<text transform="translate(32,637.3) rotate(-90)">4 weeks</text>
<text transform="translate(32,688.3) rotate(-90)">3 weeks</text>
<text transform="translate(32,739.3) rotate(-90)">2 weeks</text>
<text transform="translate(32,790.3) rotate(-90)">1 week</text>
<text transform="translate(32,841.3) rotate(-90)">0 week</text>
</g>
<rect x="451" y="610.7" width="14" height="255" fill="url(#gHeat)"/>
<path d="M465,610.7h2.5M465,642.3h2.5M465,674h2.5M465,705.7h2.5M465,737.3h2.5M465,769h2.5M465,801h2.5M465,832.7h2.5M465,864h2.5" stroke="#555" stroke-width="0.8"/>
<g font-size="11.5"><text x="467.5" y="614.8">2.00</text><text x="467.5" y="646.4">1.50</text><text x="467.5" y="678.1">1.00</text><text x="467.5" y="709.8">0.50</text><text x="467.5" y="741.4">0.00</text><text x="465.5" y="773.1">-0.50</text><text x="465.5" y="805.1">-1.00</text><text x="465.5" y="836.8">-1.50</text><text x="465.5" y="868">-2.00</text></g>

<!-- ===== Panel I ===== -->
<rect x="770" y="390" width="219.4" height="208.3" fill="#fff"/>
<g stroke="#ececec" stroke-width="0.8">
<path d="M774.9,390V598.3M817.3,390V598.3M859.7,390V598.3M902.2,390V598.3M944.6,390V598.3M987,390V598.3"/>
<path d="M770,391.7H989.4M770,402.35H989.4M770,413H989.4M770,423.65H989.4M770,434.3H989.4M770,444.95H989.4M770,455.6H989.4M770,466.25H989.4M770,476.9H989.4M770,487.55H989.4M770,498.2H989.4M770,508.85H989.4M770,519.5H989.4M770,530.15H989.4M770,540.8H989.4M770,551.45H989.4M770,562.1H989.4M770,572.75H989.4M770,583.4H989.4M770,594.05H989.4"/>
</g>
<rect x="770" y="390" width="219.4" height="208.3" fill="none" stroke="#333" stroke-width="1.2"/>
<path d="M774.9,598.3v3.5M817.3,598.3v3.5M859.7,598.3v3.5M902.2,598.3v3.5M944.6,598.3v3.5M987,598.3v3.5" stroke="#333" stroke-width="1"/>
<path d="M767,391.7h3M767,402.35h3M767,413h3M767,423.65h3M767,434.3h3M767,444.95h3M767,455.6h3M767,466.25h3M767,476.9h3M767,487.55h3M767,498.2h3M767,508.85h3M767,519.5h3M767,530.15h3M767,540.8h3M767,551.45h3M767,562.1h3M767,572.75h3M767,583.4h3M767,594.05h3" stroke="#333" stroke-width="0.8"/>
<g font-size="10" text-anchor="middle"><text x="774.9" y="612">0</text><text x="817.3" y="612">100</text><text x="859.7" y="612">200</text><text x="902.2" y="612">300</text><text x="944.6" y="612">400</text><text x="987" y="612">500</text></g>
<g transform="translate(766,0) scale(0.74,1)" font-size="9.5" text-anchor="end" fill="#111">
<text y="394.9">Tumor necrosis factor receptor superfamily binding</text>
<text y="405.5">Tumor necrosis factor receptor binding</text>
<text y="416.2">Signaling receptor activator activity</text>
<text y="426.8">Receptor ligand activity</text>
<text y="437.5">Phospholipase activator activity</text>
<text y="448.1">Lipase activator activity</text>
<text y="458.8">Kinase regulator activity</text>
<text y="469.4">Interleukin-1 receptor binding</text>
<text y="480.1">Growth factor receptor binding</text>
<text y="490.7">Growth factor activity</text>
<text y="501.4">G protein-coupled receptor binding</text>
<text y="512">Cytokine receptor binding</text>
<text y="522.7">Cytokine activity</text>
<text y="533.3">CXCR chemokine receptor binding</text>
<text y="544">Chemokine receptor binding</text>
<text y="554.6">Chemokine activity</text>
<text y="565.3">Chemoattractant activity</text>
<text y="575.9">CCR5 chemokine receptor binding</text>
<text y="586.6">CCR1 chemokine receptor binding</text>
<text y="597.2">CCR chemokine receptor binding</text>
</g>
<g>
<ellipse cx="790.3" cy="391.7" rx="2.5" ry="2" fill="#e8941e"/>
<ellipse cx="796.5" cy="402.35" rx="2" ry="1.7" fill="#d4a820"/>
<ellipse cx="789.7" cy="413" rx="8.6" ry="5.7" fill="#22e022"/>
<ellipse cx="790.3" cy="423.65" rx="8.6" ry="5.7" fill="#22e022"/>
<ellipse cx="832" cy="434.3" rx="2" ry="1.7" fill="#7acc33"/>
<ellipse cx="824.1" cy="444.95" rx="2" ry="1.7" fill="#7acc33"/>
<ellipse cx="780" cy="455.6" rx="4.3" ry="3" fill="#ee2020"/>
<ellipse cx="817.9" cy="466.25" rx="2" ry="1.7" fill="#7acc33"/>
<ellipse cx="803.4" cy="476.9" rx="6.9" ry="5" fill="#22e022"/>
<ellipse cx="792.1" cy="487.55" rx="5.7" ry="4.3" fill="#22e022"/>
<ellipse cx="784.5" cy="498.2" rx="5.5" ry="4.3" fill="#22e022"/>
<ellipse cx="800.7" cy="508.85" rx="8" ry="6" fill="#22e022"/>
<ellipse cx="807.9" cy="519.5" rx="7.7" ry="6.3" fill="#22e022"/>
<ellipse cx="836.8" cy="530.15" rx="2" ry="1.7" fill="#66d033"/>
<ellipse cx="811.3" cy="540.8" rx="5.3" ry="4.3" fill="#22e022"/>
<ellipse cx="824.1" cy="551.45" rx="5.9" ry="4.3" fill="#22e022"/>
<ellipse cx="801.7" cy="562.1" rx="3.8" ry="3.3" fill="#33dd33"/>
<ellipse cx="921.5" cy="572.75" rx="4" ry="3.3" fill="#33dd33"/>
<ellipse cx="980.8" cy="583.4" rx="3.4" ry="3" fill="#33dd33"/>
<ellipse cx="814.5" cy="594.05" rx="5" ry="4" fill="#22e022"/>
</g>
<text x="1002" y="410" font-size="11">Count</text>
<g fill="#000"><ellipse cx="1011" cy="420" rx="7.7" ry="3.7"/><ellipse cx="1011" cy="436.7" rx="9.5" ry="5"/><ellipse cx="1011" cy="453.3" rx="10.3" ry="5.8"/><ellipse cx="1011" cy="470" rx="11.7" ry="7"/></g>
<g font-size="11"><text x="1028" y="424">5</text><text x="1028" y="440.7">10</text><text x="1028" y="457.3">15</text><text x="1028" y="474">20</text></g>
<text x="999.5" y="509" font-size="11">p.adjust</text>
<rect x="1001.4" y="520" width="21.4" height="81.7" fill="url(#gPadj)"/>
<g font-size="10.5"><text x="1027" y="528">0.006</text><text x="1027" y="554">0.004</text><text x="1027" y="579.7">0.002</text></g>

<!-- ===== Panel J ===== -->
<rect x="770" y="651.7" width="217.7" height="211.6" fill="#fff"/>
<g stroke="#ececec" stroke-width="0.8">
<path d="M785.4,651.7V863.3M845.6,651.7V863.3M905,651.7V863.3M964,651.7V863.3" stroke="#f4f4f4"/>
<path d="M815.5,651.7V863.3M875.7,651.7V863.3M934.3,651.7V863.3"/>
<path d="M770,653.3H987.7M770,664.1H987.7M770,674.9H987.7M770,685.7H987.7M770,696.5H987.7M770,707.3H987.7M770,718H987.7M770,728.8H987.7M770,739.6H987.7M770,750.4H987.7M770,761.2H987.7M770,772H987.7M770,782.8H987.7M770,793.6H987.7M770,804.4H987.7M770,815.2H987.7M770,825.9H987.7M770,836.7H987.7M770,847.5H987.7M770,858.3H987.7"/>
</g>
<rect x="770" y="651.7" width="217.7" height="211.6" fill="none" stroke="#333" stroke-width="1.2"/>
<path d="M815.5,863.3v3.5M875.7,863.3v3.5M934.3,863.3v3.5" stroke="#333" stroke-width="1"/>
<path d="M767,653.3h3M767,664.1h3M767,674.9h3M767,685.7h3M767,696.5h3M767,707.3h3M767,718h3M767,728.8h3M767,739.6h3M767,750.4h3M767,761.2h3M767,772h3M767,782.8h3M767,793.6h3M767,804.4h3M767,815.2h3M767,825.9h3M767,836.7h3M767,847.5h3M767,858.3h3" stroke="#333" stroke-width="0.8"/>
<g font-size="10" text-anchor="middle"><text x="815.5" y="880">40</text><text x="875.7" y="880">60</text><text x="934.3" y="880">80</text></g>
<g transform="translate(766,0) scale(0.74,1)" font-size="9.5" text-anchor="end" fill="#111">
<text y="656.5">Response to molecule of bacterial origin</text>
<text y="667.3">Response to lipopolysaccharide</text>
<text y="678.1">Regulation of receptor signaling pathway via STAT</text>
<text y="688.9">Regulation of receptor signaling pathway via JAK-STAT</text>
<text y="699.7">Regulation of mononuclear cell proliferation</text>
<text y="710.5">Regulation of lymphocyte proliferation</text>
<text y="721.2">Regulation of leukocyte proliferation</text>
<text y="732">Receptor signaling pathway via STAT</text>
<text y="742.8">Receptor signaling pathway via JAK-STAT</text>
<text y="753.6">Positive regulation of receptor signaling pathway via STAT</text>
<text y="764.4">Positive regulation of receptor signaling pathway via JAK-STAT</text>
<text y="775.2">Positive regulation of mononuclear cell proliferation</text>
<text y="786">Positive regulation of lymphocyte proliferation</text>
<text y="796.8">Positive regulation of leukocyte proliferation</text>
<text y="807.6">Positive regulation of leukocyte activation</text>
<text y="818.4">Positive regulation of cytokine production</text>
<text y="829.1">Positive regulation of cell activation</text>
<text y="839.9">Lymphocyte proliferation</text>
<text y="850.7">Leukocyte chemotaxis</text>
<text y="861.5">Cellular response to interleukin-1</text>
</g>
<g>
<ellipse cx="786.2" cy="653.3" rx="6.9" ry="4.8" fill="#a0cc28"/>
<ellipse cx="789.7" cy="664.1" rx="6.5" ry="4.7" fill="#90cc28"/>
<ellipse cx="868.9" cy="674.9" rx="2.4" ry="2" fill="#8ccc30"/>
<ellipse cx="880.9" cy="685.7" rx="2.4" ry="2" fill="#7ad030"/>
<ellipse cx="830.3" cy="696.5" rx="5.5" ry="4" fill="#66dd22"/>
<ellipse cx="830.3" cy="707.3" rx="5.5" ry="4" fill="#66dd22"/>
<ellipse cx="822.4" cy="718" rx="5.5" ry="4" fill="#70d626"/>
<ellipse cx="860.9" cy="728.8" rx="6" ry="4.3" fill="#44dd22"/>
<ellipse cx="871.3" cy="739.6" rx="6" ry="4.7" fill="#44dd22"/>
<ellipse cx="969.4" cy="750.4" rx="2.4" ry="2" fill="#6ad030"/>
<ellipse cx="978.4" cy="761.2" rx="2.4" ry="2" fill="#6ad030"/>
<ellipse cx="888.8" cy="772" rx="2.8" ry="2.2" fill="#6ad030"/>
<ellipse cx="890.2" cy="782.8" rx="2.8" ry="2.2" fill="#6ad030"/>
<ellipse cx="878.2" cy="793.6" rx="2.4" ry="2" fill="#7ad030"/>
<ellipse cx="784.5" cy="804.4" rx="8" ry="5" fill="#3ae030"/>
<ellipse cx="781" cy="815.2" rx="9" ry="5.7" fill="#3ae030"/>
<ellipse cx="781" cy="825.9" rx="7.6" ry="5.3" fill="#3ae030"/>
<ellipse cx="800" cy="836.7" rx="6" ry="4.3" fill="#ee2222"/>
<ellipse cx="820.6" cy="847.5" rx="5.7" ry="4.3" fill="#66d022"/>
<ellipse cx="837.9" cy="858.3" rx="2.4" ry="2" fill="#ee2222"/>
</g>
<text x="1001" y="661" font-size="11">Count</text>
<g fill="#000"><ellipse cx="1009.4" cy="669" rx="1.7" ry="1.2"/><ellipse cx="1009.4" cy="685" rx="5" ry="3"/><ellipse cx="1009.4" cy="700.7" rx="6" ry="3.7"/><ellipse cx="1009.4" cy="716.7" rx="6.5" ry="4.3"/><ellipse cx="1009.4" cy="732.3" rx="7.5" ry="5"/><ellipse cx="1009.4" cy="748.3" rx="8.5" ry="5.7"/></g>
<g font-size="11"><text x="1025" y="673">10</text><text x="1025" y="689">11</text><text x="1025" y="704.7">12</text><text x="1025" y="720.7">13</text><text x="1025" y="736.3">14</text><text x="1025" y="752.3">15</text></g>
<text x="997.5" y="779" font-size="11">p.adjust</text>
<rect x="999" y="786" width="21" height="79" fill="url(#gPadj)"/>
<g font-size="10"><text x="1020" y="799">2.5e-13</text><text x="1020" y="814">2.0e-13</text><text x="1020" y="828.3">1.5e-13</text><text x="1020" y="844">1.0e-13</text><text x="1020" y="858.3">5.0e-14</text></g>

<!-- ===== Panel K ===== -->
<rect x="211" y="909" width="188" height="186" fill="#fff"/>
<g stroke="#ececec" stroke-width="0.8">
<path d="M227,909V1095M245.7,909V1095M264.3,909V1095M282.7,909V1095M301.4,909V1095M320,909V1095M338.7,909V1095M357.3,909V1095M376,909V1095M395,909V1095"/>
<path d="M211,912.3H399M211,921.6H399M211,930.9H399M211,940.3H399M211,949.6H399M211,958.9H399M211,968.2H399M211,977.5H399M211,986.9H399M211,996.2H399M211,1005.5H399M211,1014.8H399M211,1024.1H399M211,1033.5H399M211,1042.8H399M211,1052.1H399M211,1061.4H399M211,1070.7H399M211,1080.1H399M211,1089.4H399"/>
</g>
<rect x="211" y="909" width="188" height="186" fill="none" stroke="#333" stroke-width="1.2"/>
<path d="M245.7,1095v3.5M282.7,1095v3.5M320,1095v3.5M357.3,1095v3.5M395,1095v3.5" stroke="#333" stroke-width="1"/>
<path d="M208,912.3h3M208,921.6h3M208,930.9h3M208,940.3h3M208,949.6h3M208,958.9h3M208,968.2h3M208,977.5h3M208,986.9h3M208,996.2h3M208,1005.5h3M208,1014.8h3M208,1024.1h3M208,1033.5h3M208,1042.8h3M208,1052.1h3M208,1061.4h3M208,1070.7h3M208,1080.1h3M208,1089.4h3" stroke="#333" stroke-width="0.8"/>
<g font-size="9" text-anchor="middle"><text x="245.7" y="1108">20</text><text x="282.7" y="1108">30</text><text x="320" y="1108">40</text><text x="357.3" y="1108">50</text><text x="395" y="1108">60</text></g>
<g transform="translate(207,0) scale(0.87,1)" font-size="7" text-anchor="end" fill="#111">
<text y="914.8">Viral protein interaction with cytokine and cytokine receptor</text>
<text y="924.1">Type I diabetes mellitus</text>
<text y="933.4">Toll-like receptor signaling pathway</text>
<text y="942.8">TNF signaling pathway</text>
<text y="952.1">Rheumatoid arthritis</text>
<text y="961.4">Pertussis</text>
<text y="970.7">Malaria</text>
<text y="980">JAK-STAT signaling pathway</text>
<text y="989.4">Intestinal immune network for IgA production</text>
<text y="998.7">Influenza A</text>
<text y="1008">Inflammatory bowel disease</text>
<text y="1017.3">IL-17 signaling pathway</text>
<text y="1026.6">Human cytomegalovirus infection</text>
<text y="1036">Hematopoietic cell lineage</text>
<text y="1045.3">Cytokine-cytokine receptor interaction</text>
<text y="1054.6">Coronavirus disease - COVID-19</text>
<text y="1063.9">Chagas disease</text>
<text y="1073.2">Asthma</text>
<text y="1082.6">Amoebiasis</text>
<text y="1091.9">Allograft rejection</text>
</g>
<g>
<ellipse cx="321.7" cy="912.3" rx="10" ry="3.7" fill="#22e022"/>
<ellipse cx="330" cy="921.6" rx="3.5" ry="1.5" fill="#ee2a1a"/>
<ellipse cx="276.7" cy="930.9" rx="8" ry="3.3" fill="#22e022"/>
<ellipse cx="269" cy="940.3" rx="8" ry="3.3" fill="#22e022"/>
<ellipse cx="318.3" cy="949.6" rx="9.5" ry="3.5" fill="#22e022"/>
<ellipse cx="279.3" cy="958.9" rx="6" ry="2.5" fill="#c8a020"/>
<ellipse cx="335.7" cy="968.2" rx="6.5" ry="2.5" fill="#44d428"/>
<ellipse cx="255.7" cy="977.5" rx="9.5" ry="3.5" fill="#22e022"/>
<ellipse cx="339" cy="986.9" rx="6.5" ry="2.5" fill="#44d428"/>
<ellipse cx="235" cy="996.2" rx="8" ry="3" fill="#77cc33"/>
<ellipse cx="361" cy="1005.5" rx="8.5" ry="3.3" fill="#22e022"/>
<ellipse cx="316.7" cy="1014.8" rx="9.5" ry="3.5" fill="#22e022"/>
<ellipse cx="220" cy="1024.1" rx="8" ry="3" fill="#e85520"/>
<ellipse cx="281.7" cy="1033.5" rx="8" ry="3.3" fill="#22e022"/>
<ellipse cx="273.3" cy="1042.8" rx="14" ry="5" fill="#22e022"/>
<ellipse cx="218.3" cy="1052.1" rx="8" ry="3.3" fill="#ee1a1a"/>
<ellipse cx="291.7" cy="1061.4" rx="9" ry="3.3" fill="#22e022"/>
<ellipse cx="391.7" cy="1070.7" rx="3.5" ry="1.5" fill="#88cc33"/>
<ellipse cx="265" cy="1080.1" rx="7.5" ry="2.7" fill="#77cc33"/>
<ellipse cx="351" cy="1089.4" rx="3.5" ry="1.5" fill="#c8a020"/>
</g>
<text x="406" y="929" font-size="12">Count</text>
<g fill="#000"><circle cx="414.3" cy="935" r="1.3"/><ellipse cx="414.3" cy="950" rx="4.3" ry="4"/><ellipse cx="414.3" cy="963.3" rx="5" ry="4.7"/><ellipse cx="414.3" cy="978.3" rx="6" ry="5.7"/></g>
<g font-size="12"><text x="426" y="939.3">5</text><text x="426" y="954.3">10</text><text x="426" y="967.6">15</text><text x="426" y="982.6">20</text></g>
<text x="403" y="1012.3" font-size="12">p.adjust</text>
<rect x="407" y="1022" width="14.7" height="73" fill="url(#gPadj)"/>
<g font-size="11.5"><text x="422" y="1036">3e-07</text><text x="422" y="1057.5">2e-07</text><text x="422" y="1078.2">1e-07</text></g>

<!-- ===== Panel L images ===== -->
<g font-size="13" text-anchor="middle"><text x="524.5" y="906.7">DAPI</text><text x="625" y="906.7">NDV</text><text x="693" y="906.7">αGal</text><text x="822" y="906.7">Merge</text></g>
<g font-size="12.5" text-anchor="middle"><text transform="translate(473,955) rotate(-90)">Pre-treatment</text><text transform="translate(473,1048.3) rotate(-90)">Post-treatment</text></g>
<rect x="477.6" y="908.3" width="95.1" height="92.4" fill="#000" filter="url(#fDapi)"/>
<rect x="576" y="908.3" width="95.8" height="92.4" fill="#040404"/>
<rect x="676" y="908.3" width="95.4" height="92.4" fill="#040404"/>
<rect x="775.5" y="908.3" width="95.1" height="92.4" fill="#000" filter="url(#fDapi)"/>
<rect x="477.6" y="1001.7" width="95.1" height="93.3" fill="#000" filter="url(#fDapiDim)"/>
<rect x="576" y="1001.7" width="95.8" height="93.3" fill="#000" filter="url(#fGreen)"/>
<rect x="676" y="1001.7" width="95.4" height="93.3" fill="#000" filter="url(#fRedSparse)"/>
<rect x="775.5" y="1001.7" width="95.1" height="93.3" fill="#000" filter="url(#fMergeL)"/>
<g stroke="#c8c8c8" stroke-width="0.8" fill="none">
<path d="M477.6,965.7H512.6V1000.7M576,965.7H611V1000.7M676,965.7H711V1000.7M775.5,965.7H810.5V1000.7"/>
<path d="M477.6,1060H512.6V1095M576,1060H611V1095M676,1060H711V1095M775.5,1060H810.5V1095"/>
</g>
<g stroke="#fff" stroke-width="1"><path d="M560,997.5h10M659,997.5h10M759,997.5h10M858,997.5h10M560,1091.8h10M659,1091.8h10M759,1091.8h10M858,1091.8h10"/></g>
<g font-size="3.5" fill="#fff" text-anchor="middle"><text x="565" y="995.5">50 μm</text><text x="664" y="995.5">50 μm</text><text x="764" y="995.5">50 μm</text><text x="863" y="995.5">50 μm</text><text x="565" y="1089.8">50 μm</text><text x="664" y="1089.8">50 μm</text><text x="764" y="1089.8">50 μm</text><text x="863" y="1089.8">50 μm</text></g>

<!-- L bar charts -->
<g stroke="#000" stroke-width="1.1" fill="none">
<path d="M913.5,907.3V1027.3H972.7"/>
<path d="M910.5,907.3h3M910.5,931.3h3M910.5,955.3h3M910.5,979.3h3M910.5,1003.3h3M910.5,1027.3h3M929,1027.3v3M953.5,1027.3v3"/>
<path d="M929,915V907.3H953.5V915"/>
<path d="M1003.3,907.3V1027.3H1066.5"/>
<path d="M1000.3,907.3h3M1000.3,931.3h3M1000.3,955.3h3M1000.3,979.3h3M1000.3,1003.3h3M1000.3,1027.3h3M1025.7,1027.3v3M1048.2,1027.3v3"/>
<path d="M1025.7,915V907.3H1048.2V915"/>
</g>
<rect x="946.5" y="943.3" width="14" height="84" fill="#f2a348"/>
<path d="M953.5,943.3V939.7M949.5,939.7h8" stroke="#000" stroke-width="1"/>
<rect x="1041.2" y="991.3" width="14" height="36" fill="#f2a348"/>
<path d="M1048.2,991.3V988.9M1044.2,988.9h8" stroke="#000" stroke-width="1"/>
<g font-size="7.5" text-anchor="end"><text x="910" y="910">100</text><text x="910" y="934">80</text><text x="910" y="958">60</text><text x="910" y="982">40</text><text x="910" y="1006">20</text><text x="910" y="1030">0</text>
<text x="999.8" y="910">100</text><text x="999.8" y="934">80</text><text x="999.8" y="958">60</text><text x="999.8" y="982">40</text><text x="999.8" y="1006">20</text><text x="999.8" y="1030">0</text></g>
<g font-size="9" text-anchor="middle"><text x="941.2" y="908.5">***</text><text x="1037" y="908.5">**</text></g>
<g font-size="8" text-anchor="middle">
<text transform="translate(883,968) rotate(-90)">Number of  NDV</text>
<text transform="translate(892,968) rotate(-90)">positive cells per field</text>
<text transform="translate(979,968) rotate(-90)">Number of  αGal</text>
<text transform="translate(988,968) rotate(-90)">positive cells per field</text>
</g>
<g font-size="12" text-anchor="end">
<text transform="translate(932,1035) rotate(-54)">Pre-treatment</text>
<text transform="translate(956.5,1035) rotate(-54)">Post-treatment</text>
<text transform="translate(1028.7,1035) rotate(-54)">Pre-treatment</text>
<text transform="translate(1051.2,1035) rotate(-54)">Post-treatment</text>
</g>

<!-- ===== Panel M ===== -->
<g font-size="13.5" text-anchor="middle"><text x="96.4" y="1143.3">DAPI</text><text x="220.4" y="1143.3">CD41</text><text x="345.4" y="1143.3">Merge</text></g>
<g font-size="12.5" text-anchor="middle"><text transform="translate(34,1208) rotate(-90)">Pre-treatment</text><text transform="translate(34,1317) rotate(-90)">Post-treatment</text></g>
<rect x="37.2" y="1146" width="119.5" height="113.3" fill="#000" filter="url(#fDapiDim)"/>
<rect x="161.2" y="1146" width="119.5" height="113.3" fill="#0a0204"/>
<rect x="285.1" y="1146" width="119.5" height="113.3" fill="#000" filter="url(#fDapiDim)"/>
<rect x="37.2" y="1261.7" width="119.5" height="113.3" fill="#000" filter="url(#fDapiDim)"/>
<rect x="161.2" y="1261.7" width="119.5" height="113.3" fill="#000" filter="url(#fRed)"/>
<rect x="285.1" y="1261.7" width="119.5" height="113.3" fill="#000" filter="url(#fMergeRB)"/>

<!-- ===== Panel N ===== -->
<g font-size="13.5" text-anchor="middle"><text x="622.6" y="1143.3">DAPI</text><text x="755.9" y="1143.3">PAF</text><text x="871.3" y="1143.3">Merge</text></g>
<g font-size="12.5" text-anchor="middle"><text transform="translate(563.5,1208) rotate(-90)">Pre-treatment</text><text transform="translate(563.5,1317) rotate(-90)">Post-treatment</text></g>
<rect x="565.8" y="1146" width="118.6" height="113.3" fill="#000" filter="url(#fDapi)"/>
<rect x="688.8" y="1146" width="118.8" height="113.3" fill="#0a0204"/>
<rect x="812.7" y="1146" width="118.8" height="113.3" fill="#000" filter="url(#fDapi)"/>
<rect x="565.8" y="1261.7" width="118.6" height="113.3" fill="#000" filter="url(#fDapi)"/>
<rect x="688.8" y="1261.7" width="118.8" height="113.3" fill="#000" filter="url(#fRed)"/>
<rect x="812.7" y="1261.7" width="118.8" height="113.3" fill="#000" filter="url(#fMergeRB)"/>

<!-- ===== Panel O ===== -->
<g font-size="13.5" text-anchor="middle"><text x="96.4" y="1423.3">DAPI</text><text x="222" y="1423.3">CD4</text><text x="345.4" y="1423.3">Merge</text></g>
<g font-size="12.5" text-anchor="middle"><text transform="translate(34,1489) rotate(-90)">Pre-treatment</text><text transform="translate(34,1597.5) rotate(-90)">Post-treatment</text></g>
<rect x="37.2" y="1426" width="119.5" height="113.3" fill="#000" filter="url(#fDapi)"/>
<rect x="161.2" y="1426" width="119.5" height="113.3" fill="#080204"/>
<rect x="285.1" y="1426" width="119.5" height="113.3" fill="#000" filter="url(#fDapi)"/>
<rect x="37.2" y="1541.7" width="119.5" height="113.3" fill="#000" filter="url(#fDapi)"/>
<rect x="161.2" y="1541.7" width="119.5" height="113.3" fill="#000" filter="url(#fRedMed)"/>
<rect x="285.1" y="1541.7" width="119.5" height="113.3" fill="#000" filter="url(#fMergeBsR)"/>

<!-- ===== Panel P ===== -->
<g font-size="13.5" text-anchor="middle"><text x="622.6" y="1423.3">DAPI</text><text x="753.5" y="1423.3">CD8</text><text x="871.3" y="1423.3">Merge</text></g>
<g font-size="12.5" text-anchor="middle"><text transform="translate(563.5,1490) rotate(-90)">Pre-treatment</text><text transform="translate(563.5,1596.5) rotate(-90)">Post-treatment</text></g>
<rect x="565.8" y="1426" width="118.6" height="113.3" fill="#000" filter="url(#fDapi)"/>
<rect x="688.8" y="1426" width="118.8" height="113.3" fill="#080204"/>
<rect x="812.7" y="1426" width="118.8" height="113.3" fill="#000" filter="url(#fDapi)"/>
<rect x="565.8" y="1541.7" width="118.6" height="113.3" fill="#000" filter="url(#fDapi)"/>
<rect x="688.8" y="1541.7" width="118.8" height="113.3" fill="#000" filter="url(#fRedSparse)"/>
<rect x="812.7" y="1541.7" width="118.8" height="113.3" fill="#000" filter="url(#fMergeBsR)"/>

<!-- insets + scale bars M N O P -->
<g stroke="#c8c8c8" stroke-width="0.8" fill="none">
<path d="M37.2,1216H83.7V1259.3M161.2,1216H207.7V1259.3M285.1,1216H331.6V1259.3M37.2,1332H83.7V1375M161.2,1332H207.7V1375M285.1,1332H331.6V1375"/>
<path d="M565.8,1216H610.6V1259.3M688.8,1216H733.6V1259.3M812.7,1216H857.5V1259.3M565.8,1332H610.6V1375M688.8,1332H733.6V1375M812.7,1332H857.5V1375"/>
<path d="M37.2,1496H83.7V1539.3M161.2,1496H207.7V1539.3M285.1,1496H331.6V1539.3M37.2,1612H83.7V1655M161.2,1612H207.7V1655M285.1,1612H331.6V1655"/>
<path d="M565.8,1496H610.6V1539.3M688.8,1496H733.6V1539.3M812.7,1496H857.5V1539.3M565.8,1612H610.6V1655M688.8,1612H733.6V1655M812.7,1612H857.5V1655"/>
</g>
<g stroke="#fff" stroke-width="1">
<path d="M140,1256h13M264,1256h13M388,1256h13M140,1371.5h13M264,1371.5h13M388,1371.5h13"/>
<path d="M668,1256h13M791,1256h13M915,1256h13M668,1371.5h13M791,1371.5h13M915,1371.5h13"/>
<path d="M140,1536h13M264,1536h13M388,1536h13M140,1651.5h13M264,1651.5h13M388,1651.5h13"/>
<path d="M668,1536h13M791,1536h13M915,1536h13M668,1651.5h13M791,1651.5h13M915,1651.5h13"/>
</g>
<g font-size="3.8" fill="#fff" text-anchor="middle">
<text x="146.5" y="1254">50 μm</text><text x="270.5" y="1254">50 μm</text><text x="394.5" y="1254">50 μm</text><text x="146.5" y="1369.5">50 μm</text><text x="270.5" y="1369.5">50 μm</text><text x="394.5" y="1369.5">50 μm</text>
<text x="674.5" y="1254">50 μm</text><text x="797.5" y="1254">50 μm</text><text x="921.5" y="1254">50 μm</text><text x="674.5" y="1369.5">50 μm</text><text x="797.5" y="1369.5">50 μm</text><text x="921.5" y="1369.5">50 μm</text>
<text x="146.5" y="1534">50 μm</text><text x="270.5" y="1534">50 μm</text><text x="394.5" y="1534">50 μm</text><text x="146.5" y="1649.5">50 μm</text><text x="270.5" y="1649.5">50 μm</text><text x="394.5" y="1649.5">50 μm</text>
<text x="674.5" y="1534">50 μm</text><text x="797.5" y="1534">50 μm</text><text x="921.5" y="1534">50 μm</text><text x="674.5" y="1649.5">50 μm</text><text x="797.5" y="1649.5">50 μm</text><text x="921.5" y="1649.5">50 μm</text>
</g>

<!-- M bar chart -->
<g stroke="#000" stroke-width="1.3" fill="none">
<path d="M459.7,1145V1311.7H535.5"/>
<path d="M455.5,1145h4.2M455.5,1178.3h4.2M455.5,1211.7h4.2M455.5,1245h4.2M455.5,1278.3h4.2M455.5,1311.7h4.2M479.3,1311.7v4.5M513.8,1311.7v4.5"/>
<path d="M479.3,1157V1145H513.8V1157"/>
</g>
<rect x="469.3" y="1308.4" width="20" height="3.3" fill="#4a5aac"/>
<rect x="503.8" y="1189.2" width="20" height="122.5" fill="#f2a348"/>
<path d="M479.3,1308.4V1305.4M475.3,1305.4h8M513.8,1189.2V1183.4M508.8,1183.4h10" stroke="#000" stroke-width="1.2"/>
<g font-size="11" text-anchor="end"><text x="454" y="1149">100</text><text x="454" y="1182.3">80</text><text x="454" y="1215.7">60</text><text x="454" y="1249">40</text><text x="454" y="1282.3">20</text><text x="454" y="1315.7">0</text></g>
<text x="496.5" y="1148" font-size="12" text-anchor="middle">**</text>
<g font-size="12" text-anchor="middle"><text transform="translate(422,1243) rotate(-90)">Number of CD41</text><text transform="translate(434,1243) rotate(-90)">positive cells per field</text></g>
<g font-size="12" text-anchor="end"><text transform="translate(483,1321) rotate(-44)">Pre-treatment</text><text transform="translate(518,1321) rotate(-44)">Post-treatment</text></g>

<!-- N bar chart -->
<g stroke="#000" stroke-width="1.3" fill="none">
<path d="M999.7,1147.3V1310H1079"/>
<path d="M995.5,1147.3h4.2M995.5,1179.8h4.2M995.5,1212.4h4.2M995.5,1244.9h4.2M995.5,1277.5h4.2M995.5,1310h4.2M1020.4,1310v4.5M1057.2,1310v4.5"/>
<path d="M1020.4,1159V1147.3H1057.2V1159"/>
</g>
<rect x="1009.9" y="1303.5" width="21" height="6.5" fill="#4a5aac"/>
<rect x="1046.7" y="1205.9" width="21" height="104.1" fill="#f2a348"/>
<path d="M1020.4,1303.5V1301M1016.4,1301h8M1057.2,1205.9V1201M1052,1201h10.4" stroke="#000" stroke-width="1.2"/>
<g font-size="11" text-anchor="end"><text x="994" y="1151.3">100</text><text x="994" y="1183.8">80</text><text x="994" y="1216.4">60</text><text x="994" y="1248.9">40</text><text x="994" y="1281.5">20</text><text x="994" y="1314">0</text></g>
<text x="1038.8" y="1150" font-size="12" text-anchor="middle">***</text>
<g font-size="12" text-anchor="middle"><text transform="translate(962,1245) rotate(-90)">Number of PAF</text><text transform="translate(974,1245) rotate(-90)">positive cells per field</text></g>
<g font-size="12" text-anchor="end"><text transform="translate(1024,1319.5) rotate(-44)">Pre-treatment</text><text transform="translate(1061,1319.5) rotate(-44)">Post-treatment</text></g>

<!-- O bar chart -->
<g stroke="#000" stroke-width="1.3" fill="none">
<path d="M459.7,1426V1592.7H535.5"/>
<path d="M455.5,1426h4.2M455.5,1459.3h4.2M455.5,1492.7h4.2M455.5,1526h4.2M455.5,1559.3h4.2M455.5,1592.7h4.2M479.3,1592.7v4.5M513.8,1592.7v4.5"/>
<path d="M479.3,1438V1426H513.8V1438"/>
</g>
<rect x="469.3" y="1587.7" width="20" height="5" fill="#4a5aac"/>
<rect x="503.8" y="1490.2" width="20" height="102.5" fill="#f2a348"/>
<path d="M479.3,1587.7V1585.2M475.3,1585.2h8M513.8,1490.2V1484.3M508.8,1484.3h10" stroke="#000" stroke-width="1.2"/>
<g font-size="11" text-anchor="end"><text x="454" y="1430">100</text><text x="454" y="1463.3">80</text><text x="454" y="1496.7">60</text><text x="454" y="1530">40</text><text x="454" y="1563.3">20</text><text x="454" y="1596.7">0</text></g>
<text x="496.5" y="1429" font-size="12" text-anchor="middle">**</text>
<text transform="translate(430,1515) rotate(-90)" font-size="12.5" text-anchor="middle">Number of CD4⁺ T cells per field</text>
<g font-size="12" text-anchor="end"><text transform="translate(483,1602) rotate(-44)">Pre-treatment</text><text transform="translate(518,1602) rotate(-44)">Post-treatment</text></g>

<!-- P bar chart -->
<g stroke="#000" stroke-width="1.3" fill="none">
<path d="M1000.7,1424.3V1589H1079"/>
<path d="M996.5,1424.3h4.2M996.5,1457.2h4.2M996.5,1490.1h4.2M996.5,1523.1h4.2M996.5,1556h4.2M996.5,1589h4.2M1021.4,1589v4.5M1057.2,1589v4.5"/>
<path d="M1021.4,1434V1424.3H1057.2V1434"/>
</g>
<rect x="1010.9" y="1582.4" width="21" height="6.6" fill="#4a5aac"/>
<rect x="1046.7" y="1556.9" width="21" height="32.1" fill="#f2a348"/>
<path d="M1021.4,1582.4V1579.9M1017.4,1579.9h8M1057.2,1556.9V1551.1M1052,1551.1h10.4" stroke="#000" stroke-width="1.2"/>
<g font-size="11" text-anchor="end"><text x="995" y="1428.3">100</text><text x="995" y="1461.2">80</text><text x="995" y="1494.1">60</text><text x="995" y="1527.1">40</text><text x="995" y="1560">20</text><text x="995" y="1593">0</text></g>
<text x="1039.3" y="1428" font-size="12" text-anchor="middle">*</text>
<text transform="translate(968,1520) rotate(-90)" font-size="12.5" text-anchor="middle">Number of CD8⁺ T cells per field</text>
<g font-size="12" text-anchor="end"><text transform="translate(1025,1598.5) rotate(-44)">Pre-treatment</text><text transform="translate(1061,1598.5) rotate(-44)">Post-treatment</text></g>

</svg>
</body></html>
